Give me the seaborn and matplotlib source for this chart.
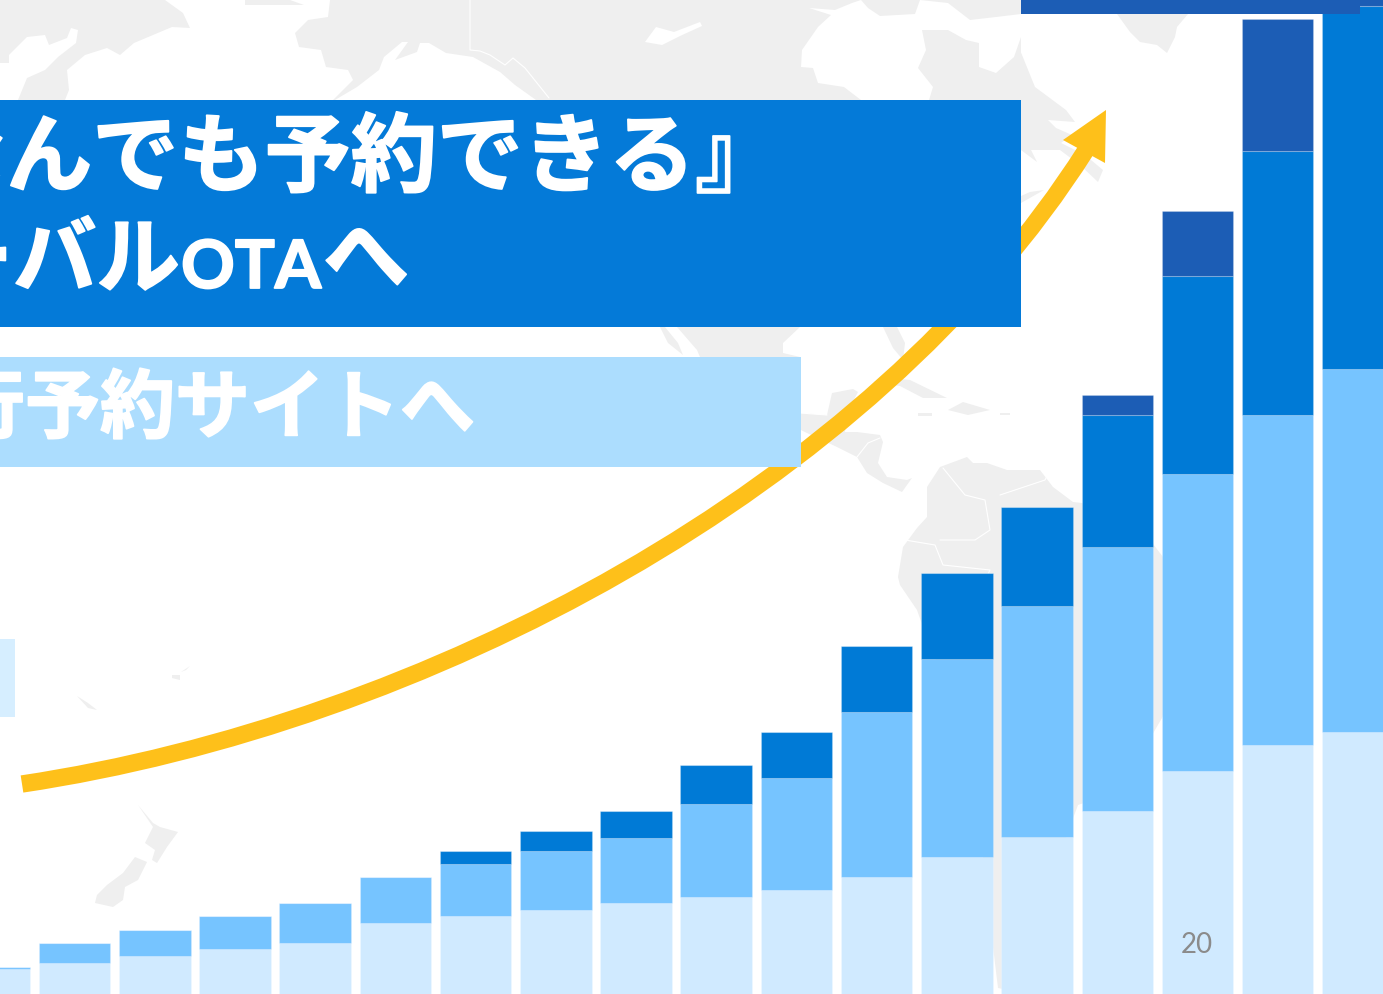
import matplotlib
matplotlib.use("Agg")
import matplotlib.pyplot as plt
import matplotlib.patheffects as pe
from matplotlib.patches import PathPatch, Polygon, Rectangle
from matplotlib.path import Path
import numpy as np
import seaborn as sns

# Stack segments (height in image pixels)
months = list(range(18))
light = [25, 31, 38, 45, 51, 71, 78, 84, 91, 97, 104, 117, 137, 157, 183, 223, 249, 262]
mid = [2, 20, 26, 33, 40, 46, 52, 59, 65, 93, 112, 165, 198, 231, 264, 297, 330, 363]
dark = [0, 0, 0, 0, 0, 0, 13, 20, 27, 39, 46, 66, 86, 99, 132, 198, 264, 363]
darkest = [0, 0, 0, 0, 0, 0, 0, 0, 0, 0, 0, 0, 0, 0, 20, 65, 132, 132]

title_line1 = "『なんでも予約できる』"
title_line2 = "グローバル"
title_line2_latin = "OTA"
title_line2_end = "へ"
title_line3 = "旅行予約サイトへ"
page_number = "20"

LAND = "#EFEFEF"
C_LIGHT, C_MID, C_DARK, C_DARKEST = "#D0EAFF", "#76C4FF", "#007AD6", "#1C5DB5"

# Background map outlines, rough tracing
sea_top = [
    [(0, 63), (9, 63), (9, 55), (27, 37), (45, 35), (49, 45), (67, 38), (71, 28), (78, 30), (76, 43),
     (58, 57), (45, 70), (27, 78), (18, 100), (0, 100)],
    [(165, 0), (183, 13), (190, 28), (172, 27), (134, 43), (120, 55), (107, 48), (85, 55), (67, 70),
     (69, 90), (65, 100), (333, 100), (353, 80), (348, 70), (326, 67), (321, 50), (299, 47), (295, 33),
     (308, 20), (328, 17), (330, 0), (290, 0), (304, 5), (245, 5), (245, 0)],
    [(335, 100), (357, 87), (379, 70), (384, 57), (402, 42), (408, 42), (395, 60), (417, 52), (420, 43),
     (429, 43), (446, 53), (473, 57), (500, 72), (515, 85), (536, 100)],
    [(861, 0), (852, 3), (835, 10), (809, 8), (831, 15), (818, 27), (802, 50), (801, 67), (813, 68),
     (818, 83), (844, 87), (861, 100), (929, 100), (933, 87), (918, 68), (926, 50), (922, 30), (948, 30),
     (966, 40), (979, 43), (979, 67), (996, 73), (1014, 57), (1021, 37), (1021, 14), (996, 17), (970, 20),
     (948, 3), (920, 0), (915, 14), (880, 16), (868, 8)],
    [(645, 42), (656, 27), (674, 32), (700, 22), (702, 26), (680, 36), (662, 45)],
]
land_mid = [
    [(1020, 50), (1035, 87), (1066, 110), (1075, 122), (1048, 120), (1056, 128), (1072, 135), (1061, 143),
     (1085, 155), (1103, 170), (1098, 182), (1080, 165), (1060, 150), (1031, 150), (1037, 162), (1021, 150)],
    [(1021, 203), (1044, 190), (1030, 192), (1021, 196)],
    [(1117, 14), (1130, 32), (1140, 42), (1157, 45), (1167, 53), (1175, 37), (1177, 27), (1188, 14)],
    [(660, 327), (668, 343), (683, 355), (678, 343), (665, 327)],
    [(677, 327), (697, 350), (700, 357), (800, 357), (783, 353), (783, 343), (800, 327)],
    [(883, 327), (893, 348), (903, 360), (905, 343), (897, 327)],
    [(801, 413), (827, 415), (832, 393), (853, 389), (858, 392), (847, 413), (845, 432), (857, 432), (880, 435),
     (883, 442), (878, 463), (887, 477), (907, 480), (912, 478), (902, 492), (883, 483), (867, 473), (857, 457),
     (837, 447), (807, 433), (801, 430)],
    [(873, 382), (890, 378), (910, 380), (947, 398), (923, 398), (900, 386)],
    [(948, 410), (963, 402), (990, 410), (968, 415)],
    [(1000, 413), (1010, 413), (1010, 415), (1000, 415)],
    [(918, 413), (932, 413), (932, 416), (918, 416)],
    [(927, 487), (940, 467), (967, 457), (973, 463), (987, 463), (1007, 470), (1040, 470), (1053, 487), (1073, 502),
     (1082, 503), (1150, 540), (1163, 557), (1185, 590), (1175, 680), (1162, 718), (1120, 790), (1078, 805),
     (1050, 880), (1020, 960), (1008, 990), (998, 988), (985, 880), (975, 760), (923, 627), (917, 610), (900, 585),
     (898, 577), (903, 547), (917, 528), (927, 517)],
    [(138, 805), (153, 823), (160, 827), (178, 832), (167, 847), (157, 863), (152, 860), (155, 850), (145, 843),
     (153, 827)],
    [(135, 857), (147, 862), (138, 880), (125, 887), (123, 900), (113, 907), (95, 903), (97, 895), (107, 885),
     (123, 873)],
    [(77, 696), (88, 703), (97, 710), (88, 708)],
    [(172, 675), (180, 675), (180, 680), (172, 678)],
    [(181, 672), (190, 666), (186, 670)],
]
borders = [
    [(470, 0), (470, 50), (480, 51), (490, 55), (505, 65), (513, 58), (525, 68), (549, 98)],
    [(800, 413), (827, 415)],
    [(857, 457), (868, 443), (880, 438)],
    [(943, 468), (965, 495), (985, 500), (990, 530), (975, 540), (940, 540)],
    [(905, 540), (935, 545), (943, 565), (990, 570), (978, 595)],
    [(1000, 495), (1045, 480), (1050, 470)],
]

sns.set_theme(style="white")
plt.rcParams["font.family"] = ["Noto Sans CJK JP", "DejaVu Sans"]

fig = plt.figure(figsize=(13.83, 9.94), dpi=100, facecolor="white")

# Backdrop in image pixels
bg = fig.add_axes([0, 0, 1, 1], zorder=0)
bg.set_xlim(0, 1383)
bg.set_ylim(994, 0)
bg.axis("off")

bg.add_patch(Rectangle((0, 0), 1021, 100, fc=LAND, ec="none", zorder=1))
for poly in sea_top:
    bg.add_patch(Polygon(poly, fc="white", ec="none", zorder=2))
for poly in land_mid:
    bg.add_patch(Polygon(poly, fc=LAND, ec="none", zorder=2))
for line in borders:
    xs, ys = zip(*line)
    bg.plot(xs, ys, color="white", lw=0.8, zorder=3)

# Growth arrow
curve = Path([(22, 784), (422, 724), (870, 490), (1086, 150)],
             [Path.MOVETO, Path.CURVE4, Path.CURVE4, Path.CURVE4])
bg.add_patch(PathPatch(curve, fc="none", ec="#FEC01A", lw=12.5, capstyle="butt", zorder=4))
bg.add_patch(Polygon([(1063, 140), (1106, 110), (1105, 163)], fc="#FEC01A", ec="none", zorder=4))

# Banners
bg.add_patch(Rectangle((0, 100), 1021, 227, fc="#047AD8", ec="none", zorder=5))
bg.add_patch(Rectangle((0, 357), 801, 110, fc="#ACDDFE", ec="none", zorder=5))
bg.add_patch(Rectangle((0, 639), 15, 78, fc="#D6EEFF", ec="none", zorder=5))

heavy = [pe.withStroke(linewidth=1.3, foreground="white")]
bg.text(-166, 185, title_line1, color="white", fontsize=62, fontweight="bold", va="baseline", zorder=6,
        path_effects=heavy)
bg.text(180, 286, title_line2, color="white", fontsize=60, fontweight="bold", ha="right", va="baseline", zorder=6,
        path_effects=heavy)
bg.text(181, 288, title_line2_latin, color="white", fontsize=48, fontweight="bold", family="Lato",
        va="baseline", zorder=6, path_effects=heavy)
bg.text(323, 286, title_line2_end, color="white", fontsize=62, fontweight="bold", va="baseline", zorder=6,
        path_effects=heavy)
bg.text(-125, 432, title_line3, color="white", fontsize=54, fontweight="bold", va="baseline", zorder=6,
        path_effects=heavy)

# Stacked bars
ax = fig.add_axes([0, 0, 1, 1], zorder=1)
ax.patch.set_visible(False)
bottom = np.zeros(len(months))
for values, colour in [(light, C_LIGHT), (mid, C_MID), (dark, C_DARK), (darkest, C_DARKEST)]:
    sns.barplot(x=months, y=values, bottom=bottom, color=colour, saturation=1, width=0.892, ax=ax,
                edgecolor=(1, 1, 1, 0.2), linewidth=0.8)
    bottom = bottom + np.array(values)
ax.set_xlim(0.071, 17.3125)
ax.set_ylim(0, 994)
ax.axis("off")

# Sits over the last bar
ax.add_patch(Rectangle((1021, 0), 339, 14, transform=bg.transData, fc=C_DARKEST, ec="none", zorder=10))
ax.text(1197, 945, page_number, transform=bg.transData, color="#8B8B8B", fontsize=20, family="Lato",
        ha="center", va="center", zorder=10)

fig.savefig("out.png", dpi=100)
